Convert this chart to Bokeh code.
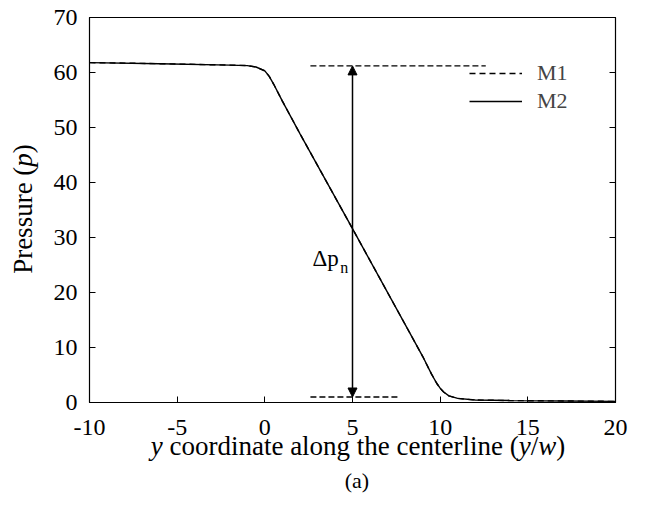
from bokeh.plotting import figure
from bokeh.models import (Range1d, FixedTicker, LinearAxis, Legend, LegendItem,
                          Arrow, NormalHead, Label, CustomJSTickFormatter, Div)
from bokeh.layouts import row, column
from bokeh.embed import file_html
from bokeh.resources import INLINE

# ---- data ----
y_coord = [-10, -6, -2, -1, -0.5, 0, 0.25, 0.5, 1, 2, 5, 8, 9, 9.5, 9.8, 10, 10.2, 10.5, 11, 12, 14, 17, 20]
p_m1 = [61.8, 61.6, 61.35, 61.25, 61.0, 60.3, 59.3, 57.9, 54.8, 48.9, 31.6, 14.2, 8.4, 5.2, 3.5, 2.6, 1.9, 1.2, 0.75, 0.45, 0.35, 0.28, 0.2]
p_m2 = [61.8, 61.6, 61.35, 61.25, 61.0, 60.3, 59.3, 57.9, 54.8, 48.9, 31.6, 14.2, 8.4, 5.2, 3.5, 2.6, 1.9, 1.2, 0.75, 0.45, 0.35, 0.28, 0.2]

x_ticks = [-10, -5, 0, 5, 10, 15, 20]
x_tick_labels = ["-10", "-5", "0", "5", "10", "15", "20"]
p_ticks = [0, 10, 20, 30, 40, 50, 60, 70]
p_tick_labels = ["0", "10", "20", "30", "40", "50", "60", "70"]

# Δp_n annotation
dp_x = [5.0]
dp_low = [1.0]
dp_high = [61.2]
ref_hi_x = [2.6, 12.6]
ref_hi_y = [61.2, 61.2]
ref_lo_x = [2.6, 7.7]
ref_lo_y = [1.0, 1.0]

FONT = "Liberation Serif"
CSS_FONT = "Liberation Serif, Times New Roman, serif"
TICK_FS = 24
LAB_FS = 27

LEFT_W = 44
FIG_H = 447

p = figure(width=650 - LEFT_W, height=FIG_H, output_backend="svg", toolbar_location=None,
           x_range=Range1d(-10, 20), y_range=Range1d(0, 70),
           min_border_left=89 - LEFT_W, min_border_right=35, min_border_top=17,
           min_border_bottom=FIG_H - 402, margin=0)
p.background_fill_color = "white"
p.border_fill_color = "white"
p.grid.visible = False
p.outline_line_color = "black"
p.outline_line_width = 1.2

for ax, ticks, labs in ((p.xaxis[0], x_ticks, x_tick_labels), (p.yaxis[0], p_ticks, p_tick_labels)):
    ax.ticker = FixedTicker(ticks=ticks)
    ax.major_label_overrides = {t: l for t, l in zip(ticks, labs)}
    ax.major_tick_in = 6
    ax.major_tick_out = 0
    ax.minor_tick_line_color = None
    ax.axis_line_color = "black"
    ax.major_tick_line_color = "black"
    ax.major_label_text_font = FONT
    ax.major_label_text_font_size = f"{TICK_FS}px"
    ax.major_label_text_color = "black"
p.xaxis.major_label_standoff = 17
p.yaxis.major_label_standoff = 12

right = LinearAxis(ticker=FixedTicker(ticks=p_ticks), major_tick_in=6, major_tick_out=0,
                   minor_tick_line_color=None, axis_line_color="black",
                   formatter=CustomJSTickFormatter(code="return ''"))
p.add_layout(right, "right")

r1 = p.line(y_coord, p_m1, line_color="black", line_width=1.4, line_dash="6 4")
r2 = p.line(y_coord, p_m2, line_color="black", line_width=1.4)

p.line(ref_hi_x, ref_hi_y, line_color="black", line_width=1.3, line_dash="6 3")
p.line(ref_lo_x, ref_lo_y, line_color="black", line_width=1.3, line_dash="6 3")
p.add_layout(Arrow(x_start=dp_x[0], y_start=dp_low[0], x_end=dp_x[0], y_end=dp_high[0],
                   line_width=1.5, line_color="black",
                   start=NormalHead(size=9, fill_color="black", line_color="black"),
                   end=NormalHead(size=9, fill_color="black", line_color="black")))
p.add_layout(Label(x=2.72, y=26.2, text="Δp", text_font=FONT, text_font_size="23px",
                   text_baseline="alphabetic", text_color="black"))
p.add_layout(Label(x=4.3, y=24.6, text="n", text_font=FONT, text_font_size="16px",
                   text_baseline="alphabetic", text_color="black"))

legend = Legend(items=[LegendItem(label="M1", renderers=[r1]), LegendItem(label="M2", renderers=[r2])],
                location=(380, 287), glyph_width=53, glyph_height=28, label_height=28,
                label_standoff=15, spacing=0, padding=0, margin=0,
                border_line_color=None, background_fill_alpha=0,
                label_text_font=FONT, label_text_font_size="22px")
p.add_layout(legend)

# y axis title (rotated) in a narrow column at the left
ylab_html = (
    f'<div style="position:relative;width:{LEFT_W}px;height:{FIG_H}px;">'
    f'<div style="position:absolute;left:23px;top:209px;transform:translate(-50%,-50%) rotate(-90deg);'
    f'white-space:nowrap;font-family:{CSS_FONT};font-size:{LAB_FS}px;line-height:1;color:black;">'
    'Pressure (<i>p</i>)</div></div>'
)
left_div = Div(text=ylab_html, width=LEFT_W, height=FIG_H, margin=0,
               styles={"font-family": CSS_FONT})

# x axis title and panel tag below
xlab_html = (
    f'<div style="position:relative;width:650px;height:{517 - FIG_H}px;">'
    f'<div style="position:absolute;left:95px;width:526px;top:-14px;text-align:center;white-space:nowrap;'
    f'font-family:{CSS_FONT};font-size:{LAB_FS}px;line-height:1;color:black;">'
    '<i>y</i> coordinate along the centerline (<i>y</i>/<i>w</i>)</div>'
    f'<div style="position:absolute;left:94px;width:526px;top:23px;text-align:center;'
    f'font-family:{CSS_FONT};font-size:22px;line-height:1;color:black;">(a)</div>'
    '</div>'
)
bottom_div = Div(text=xlab_html, width=650, height=517 - FIG_H, margin=0,
                 styles={"font-family": CSS_FONT})

layout = column(row(left_div, p, spacing=0, margin=0), bottom_div, spacing=0, margin=0)

open("out.html", "w").write(file_html(layout, INLINE))
